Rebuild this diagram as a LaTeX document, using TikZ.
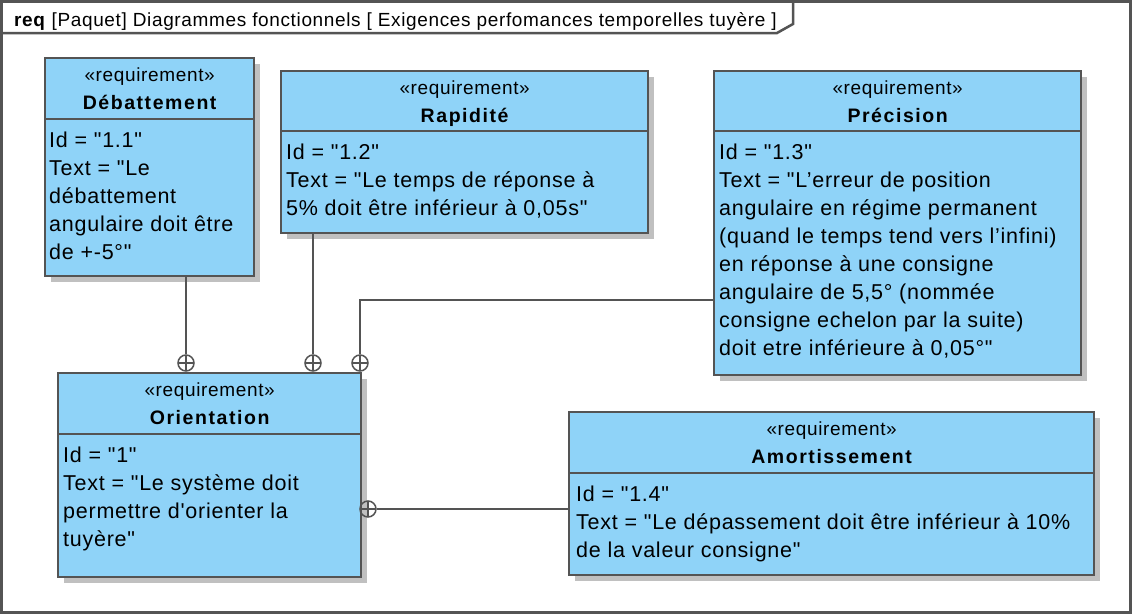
\documentclass[tikz,border=0pt]{standalone}
\usepackage{fontspec}
\newfontfamily\titlefont{Liberation Sans}[LetterSpace=3.4]
\newfontfamily\sterfont{Liberation Sans}[LetterSpace=3.4]
\newfontfamily\namefont{Liberation Sans}[LetterSpace=8]
\newfontfamily\bodyfont{Liberation Sans}[LetterSpace=3.5]
\usetikzlibrary{calc,shadows}
\definecolor{reqfill}{RGB}{143,211,248}
\definecolor{linec}{RGB}{84,84,84}
\definecolor{shadowc}{RGB}{192,192,192}
\tikzset{
  reqbox/.style={rectangle, draw=linec, fill=reqfill, line width=2.3pt, inner sep=0pt,
    anchor=north west,
    drop shadow={shadow xshift=6pt, shadow yshift=-6pt, fill=shadowc, opacity=1}},
  divider/.style={draw=linec, line width=2.3pt},
  ster/.style={anchor=base, inner sep=0pt, font=\sterfont\fontsize{19}{22}\selectfont},
  rname/.style={anchor=base, inner sep=0pt, font=\namefont\bfseries\fontsize{19.5}{22}\selectfont},
  body/.style={anchor=base west, inner sep=0pt, font=\bodyfont\fontsize{21.5}{28}\selectfont},
  link/.style={draw=linec, line width=1.7pt},
  contain/.style={circle, draw=linec, line width=1.5pt, minimum size=16pt, inner sep=0pt,
    path picture={\draw[linec, line width=1.5pt]
      (path picture bounding box.north) -- (path picture bounding box.south)
      (path picture bounding box.west) -- (path picture bounding box.east);}},
  frameline/.style={draw=linec, line width=2.5pt},
}
\newcommand{\bodytext}[1]{\parbox[t]{520pt}{\raggedright #1}}
\begin{document}
\begin{tikzpicture}[x=1pt,y=-1pt]
\useasboundingbox (0,0) rectangle (1132,614);
\fill[white] (0,0) rectangle (1132,614);
% frame
\draw[frameline] (1.3,1.3) rectangle (1130.7,612.3);
\draw[frameline] (1.3,33) -- (777,33) -- (793,24) -- (793,1.3);
\node[anchor=base west, inner sep=0pt, font=\titlefont\fontsize{19}{22}\selectfont] (title) at (14,26)
  {\textbf{req} [Paquet] Diagrammes fonctionnels [ Exigences perfomances temporelles tuyère ]};

% Debattement
\node[reqbox, minimum width=209pt, minimum height=218pt] (deb) at (44,57) {};
\draw[divider] (deb.west |- 0,119) -- (deb.east |- 0,119);
\node[ster] (debs) at ($(deb.north)+(0,24)$) {«requirement»};
\node[rname] (debn) at ($(deb.north)+(0,52)$) {Débattement};
\node[body] (debt) at ($(deb.north west)+(5,90)$) {\bodytext{Id = "1.1"\\Text = "Le\\débattement\\angulaire doit être\\de +-5°"}};

% Rapidite
\node[reqbox, minimum width=367pt, minimum height=162pt] (rap) at (280,70) {};
\draw[divider] (rap.west |- 0,131) -- (rap.east |- 0,131);
\node[ster] (raps) at ($(rap.north)+(0,24)$) {«requirement»};
\node[rname] (rapn) at ($(rap.north)+(0,52)$) {Rapidité};
\node[body] (rapt) at ($(rap.north west)+(6,89)$) {\bodytext{Id = "1.2"\\Text = "Le temps de réponse à\\5\% doit être inférieur à 0,05s"}};

% Precision
\node[reqbox, minimum width=367pt, minimum height=304pt] (pre) at (713,70) {};
\draw[divider] (pre.west |- 0,131) -- (pre.east |- 0,131);
\node[ster] (pres) at ($(pre.north)+(0,24)$) {«requirement»};
\node[rname] (pren) at ($(pre.north)+(0,52)$) {Précision};
\node[body] (pret) at ($(pre.north west)+(6,89)$) {\bodytext{Id = "1.3"\\Text = "L’erreur de position\\angulaire en régime permanent\\(quand le temps tend vers l’infini)\\en réponse à une consigne\\angulaire de 5,5° (nommée\\consigne echelon par la suite)\\doit etre inférieure à 0,05°"}};

% Orientation
\node[reqbox, minimum width=303pt, minimum height=204pt] (ori) at (57,372) {};
\draw[divider] (ori.west |- 0,434) -- (ori.east |- 0,434);
\node[ster] (oris) at ($(ori.north)+(0,24)$) {«requirement»};
\node[rname] (orin) at ($(ori.north)+(0,52)$) {Orientation};
\node[body] (orit) at ($(ori.north west)+(6,90)$) {\bodytext{Id = "1"\\Text = "Le système doit\\permettre d'orienter la\\tuyère"}};

% Amortissement
\node[reqbox, minimum width=525pt, minimum height=163pt] (amo) at (568,411) {};
\draw[divider] (amo.west |- 0,473) -- (amo.east |- 0,473);
\node[ster] (amos) at ($(amo.north)+(0,24)$) {«requirement»};
\node[rname] (amon) at ($(amo.north)+(0,52)$) {Amortissement};
\node[body] (amot) at ($(amo.north west)+(8,90)$) {\bodytext{Id = "1.4"\\Text = "Le dépassement doit être inférieur à 10\%\\de la valeur consigne"}};

% containment connectors
\node[contain] (c1) at (186,363) {};
\node[contain] (c2) at (313,363) {};
\node[contain] (c3) at (360,363) {};
\node[contain] (c4) at (368,509) {};
\coordinate (k3) at (360,300);
\draw[link] (c1) -- (c1 |- deb.south);
\draw[link] (c2) -- (c2 |- rap.south);
\draw[link] (c3) -- (k3) -- (k3 -| pre.west);
\draw[link] (c4) -- (c4 -| amo.west);
\end{tikzpicture}
\end{document}
